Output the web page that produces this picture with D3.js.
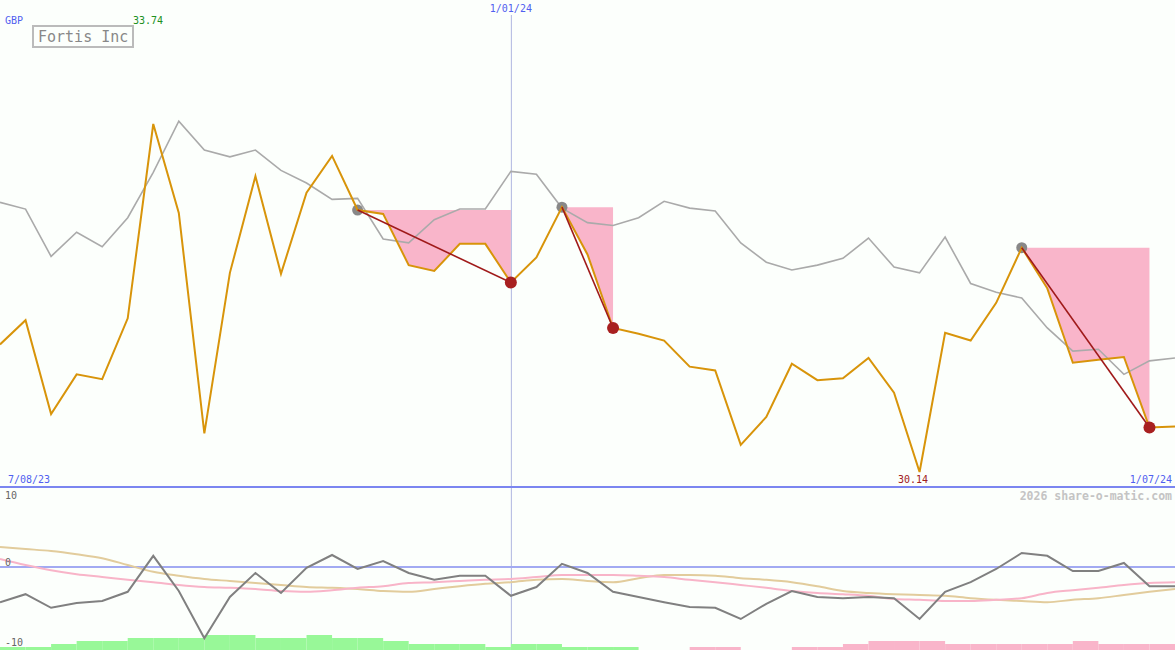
<!DOCTYPE html>
<html><head><meta charset="utf-8">
<script src="https://cdn.jsdelivr.net/npm/d3@7"></script>
<style>
html,body{margin:0;padding:0;background:#fcfffc;}
svg{display:block;}
text{font-family:"DejaVu Sans Mono","Liberation Mono",monospace;}
</style></head>
<body>
<script>
// ---- data ----
const title = "Fortis Inc";
const currency = "GBP";
const dateLabels = ["7/08/23", "1/01/24", "1/07/24"];
const markerIndex = 20; // position of the 1/01/24 marker
const maxLabel = "33.74", minLabel = "30.14";
const priceValues = [31.46,31.71,30.74,31.15,31.10,31.73,33.74,32.82,30.54,32.20,33.20,32.19,33.03,33.41,32.85,32.81,32.28,32.22,32.50,32.50,32.10,32.36,32.88,32.39,31.63,31.57,31.50,31.23,31.19,30.42,30.71,31.26,31.09,31.11,31.32,30.96,30.14,31.58,31.50,31.89,32.46,32.04,31.27,31.30,31.33,30.60,30.61];
const compareValues = [32.93,32.86,32.37,32.62,32.47,32.77,33.24,33.77,33.47,33.40,33.47,33.26,33.13,32.96,32.97,32.55,32.51,32.75,32.86,32.86,33.25,33.22,32.87,32.72,32.69,32.77,32.94,32.87,32.84,32.51,32.31,32.23,32.28,32.35,32.56,32.26,32.20,32.57,32.09,32.00,31.94,31.63,31.39,31.41,31.15,31.29,31.32];
const trades = [[14,20],[22,24],[40,45]]; // [entry index, exit index]
const momentum = [-4.4,-3.4,-5.1,-4.5,-4.25,-3.1,1.4,-3.0,-8.9,-3.75,-0.75,-3.25,-0.1,1.5,-0.25,0.75,-0.75,-1.6,-1.1,-1.1,-3.6,-2.5,0.4,-0.75,-3.1,-3.75,-4.4,-5.0,-5.1,-6.5,-4.6,-3.0,-3.75,-3.9,-3.75,-3.9,-6.5,-3.1,-1.9,-0.25,1.75,1.4,-0.5,-0.5,0.5,-2.4,-2.4];
const slowAvg = [2.5,2.25,2.0,1.6,1.1,0.25,-0.6,-1.1,-1.5,-1.75,-2.0,-2.25,-2.5,-2.6,-2.75,-3.0,-3.1,-2.75,-2.4,-2.1,-1.9,-1.6,-1.5,-1.75,-1.9,-1.4,-1.0,-1.0,-1.1,-1.4,-1.6,-1.9,-2.4,-3.0,-3.25,-3.4,-3.5,-3.6,-3.9,-4.1,-4.25,-4.4,-4.1,-3.9,-3.5,-3.1,-2.75];
const fastAvg = [1.0,0.25,-0.4,-0.9,-1.25,-1.6,-1.9,-2.25,-2.5,-2.6,-2.75,-3.0,-3.1,-2.9,-2.6,-2.4,-2.0,-1.9,-1.75,-1.6,-1.5,-1.25,-1.0,-1.0,-1.0,-1.1,-1.25,-1.6,-1.9,-2.25,-2.6,-3.0,-3.25,-3.4,-3.6,-4.0,-4.1,-4.25,-4.25,-4.1,-3.9,-3.25,-2.9,-2.6,-2.25,-2.0,-1.9];
const barValues = [1,1,2,3,3,4,4,4,5,5,4,4,5,4,4,3,2,2,2,1,2,2,1,1,1,0,0,-1,-1,0,0,-1,-1,-2,-3,-3,-3,-2,-2,-2,-2,-2,-3,-2,-2,-2];
const lowerTicks = [10, 0, -10];
const watermark = "2026 share-o-matic.com";

// ---- drawing ----
const W = 1175, H = 650;
const svg = d3.select("body").append("svg").attr("width", W).attr("height", H);
svg.append("rect").attr("width", W).attr("height", H).attr("fill", "#fcfffc");

const x = d3.scaleLinear().domain([0, priceValues.length - 1]).range([0, W]);
const y = d3.scaleLinear().domain([30.14, 33.74]).range([472, 124]);
const yl = d3.scaleLinear().domain([-10, 10]).range([647, 487]);
const yb = d3.scaleLinear().domain([0, 5]).range([650, 635]);

// pink trade areas
trades.forEach(([a, b]) => {
  const pts = d3.range(a, b + 1);
  const top = priceValues[a];
  const area = d3.area().x(i => x(i)).y0(() => y(top)).y1(i => y(priceValues[i]));
  svg.append("path").attr("d", area(pts)).attr("fill", "#f9b5ca");
});

// marker vertical line
svg.append("line").attr("x1", x(markerIndex) + 0.5).attr("x2", x(markerIndex) + 0.5)
  .attr("y1", 15).attr("y2", H).attr("stroke", "#b0b6e0").attr("stroke-width", 1);

// comparison line
const line = d3.line().x((d, i) => x(i)).y(d => y(d));
svg.append("path").attr("d", line(compareValues)).attr("fill", "none")
  .attr("stroke", "#aaaaaa").attr("stroke-width", 1.6);

// entry dots
trades.forEach(([a]) => {
  svg.append("circle").attr("cx", x(a)).attr("cy", y(priceValues[a])).attr("r", 5.5).attr("fill", "#888888");
});

// price line
svg.append("path").attr("d", line(priceValues)).attr("fill", "none")
  .attr("stroke", "#d8940a").attr("stroke-width", 2);

// trade lines and exit dots
trades.forEach(([a, b]) => {
  svg.append("line").attr("x1", x(a)).attr("y1", y(priceValues[a]))
    .attr("x2", x(b)).attr("y2", y(priceValues[b]))
    .attr("stroke", "#a01a1a").attr("stroke-width", 1.6);
  svg.append("circle").attr("cx", x(b)).attr("cy", y(priceValues[b])).attr("r", 6).attr("fill", "#a82020");
});

// baseline
svg.append("line").attr("x1", 0).attr("x2", W).attr("y1", 487).attr("y2", 487)
  .attr("stroke", "#7b86f0").attr("stroke-width", 2);

// labels top panel
svg.append("text").attr("x", 5).attr("y", 24).attr("font-size", 10).attr("fill", "#5060f0").text(currency);
svg.append("text").attr("x", 133).attr("y", 24).attr("font-size", 10).attr("fill", "#20901e").text(maxLabel);
svg.append("rect").attr("x", 33).attr("y", 26).attr("width", 100).attr("height", 21)
  .attr("fill", "none").attr("stroke", "#bbbbbb").attr("stroke-width", 2);
svg.append("text").attr("x", 38).attr("y", 42).attr("font-size", 15).attr("fill", "#888888").text(title);
svg.append("text").attr("x", x(markerIndex)).attr("y", 12).attr("text-anchor", "middle")
  .attr("font-size", 10).attr("fill", "#5060f0").text(dateLabels[1]);
svg.append("text").attr("x", 8).attr("y", 483).attr("font-size", 10).attr("fill", "#5060f0").text(dateLabels[0]);
svg.append("text").attr("x", W - 3).attr("y", 483).attr("text-anchor", "end")
  .attr("font-size", 10).attr("fill", "#5060f0").text(dateLabels[2]);
svg.append("text").attr("x", 898).attr("y", 483)
  .attr("font-size", 10).attr("fill", "#a02020").text(minLabel);
svg.append("text").attr("x", W - 3).attr("y", 500).attr("text-anchor", "end")
  .attr("font-size", 11.5).attr("font-weight", "bold").attr("fill", "#c4c4c4").text(watermark);

// lower panel
barValues.forEach((v, i) => {
  if (v === 0) return;
  svg.append("rect").attr("x", x(i)).attr("width", x(i + 1) - x(i))
    .attr("y", yb(Math.abs(v))).attr("height", yb(0) - yb(Math.abs(v)))
    .attr("fill", v > 0 ? "#98f898" : "#f9b5ca");
});
svg.append("line").attr("x1", 0).attr("x2", W).attr("y1", yl(0)).attr("y2", yl(0))
  .attr("stroke", "#a2aaf2").attr("stroke-width", 2);
const l2 = d3.line().x((d, i) => x(i)).y(d => yl(d)).curve(d3.curveMonotoneX);
svg.append("path").attr("d", l2(slowAvg)).attr("fill", "none").attr("stroke", "#e2cc9c").attr("stroke-width", 2);
svg.append("path").attr("d", l2(fastAvg)).attr("fill", "none").attr("stroke", "#f8b4c8").attr("stroke-width", 2);
const l3 = d3.line().x((d, i) => x(i)).y(d => yl(d));
svg.append("path").attr("d", l3(momentum)).attr("fill", "none").attr("stroke", "#808080").attr("stroke-width", 2);

lowerTicks.forEach(t => {
  svg.append("text").attr("x", 5).attr("y", yl(t) - 1 + (t === 10 ? 13 : 0))
    .attr("font-size", 10).attr("fill", "#666666").text(t);
});
</script>
</body></html>
